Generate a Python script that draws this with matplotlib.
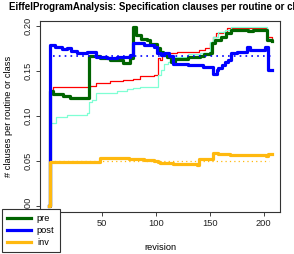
import numpy as np
import matplotlib.pyplot as plt
from matplotlib.lines import Line2D

plt.rcParams['font.family'] = ['Liberation Sans', 'DejaVu Sans']

# step breakpoints (revision, value)
pre_rev = [1, 2, 5, 14, 21, 37, 38, 48, 58, 70, 76, 79, 82, 86, 92, 95, 101, 104, 107, 110, 114, 118, 130, 141, 145, 150, 152, 155, 160, 165, 170, 185, 190, 195, 203, 208]
pre_val = [0.0, 0.128, 0.124, 0.122, 0.120, 0.120, 0.167, 0.164, 0.162, 0.159, 0.164, 0.199, 0.190, 0.186, 0.184, 0.180, 0.175, 0.171, 0.168, 0.166, 0.160, 0.163, 0.165, 0.167, 0.169, 0.170, 0.181, 0.184, 0.188, 0.192, 0.1955, 0.194, 0.1955, 0.1955, 0.184, 0.183]

post_rev = [1, 2, 7, 13, 18, 22, 27, 36, 42, 45, 55, 64, 76, 79, 89, 98, 101, 105, 108, 112, 116, 130, 141, 144, 150, 153, 157, 158, 161, 164, 167, 170, 175, 184, 187, 201, 204, 208]
post_val = [0.0, 0.179, 0.177, 0.1745, 0.175, 0.1726, 0.170, 0.171, 0.171, 0.166, 0.164, 0.166, 0.1677, 0.181, 0.1788, 0.177, 0.170, 0.168, 0.170, 0.167, 0.158, 0.1566, 0.1566, 0.1547, 0.1547, 0.147, 0.151, 0.153, 0.157, 0.160, 0.162, 0.170, 0.171, 0.177, 0.173, 0.177, 0.151, 0.151]

inv_rev = [1, 2, 5, 11, 36, 38, 44, 48, 58, 70, 75, 79, 89, 98, 102, 104, 110, 116, 126, 138, 140, 150, 153, 158, 169, 172, 196, 202, 204, 208]
inv_val = [0.0, 0.049, 0.0486, 0.0482, 0.0482, 0.0486, 0.0482, 0.0527, 0.0531, 0.0531, 0.052, 0.0516, 0.0505, 0.0497, 0.049, 0.0475, 0.047, 0.0467, 0.046, 0.0457, 0.052, 0.052, 0.0583, 0.0576, 0.0568, 0.056, 0.056, 0.0557, 0.0572, 0.0572]

red_rev = [1, 2, 5, 39, 45, 58, 70, 79, 85, 98, 102, 104, 106, 110, 120, 140, 146, 150, 153, 156, 162, 166, 170, 203, 208]
red_val = [0.0, 0.129, 0.1325, 0.133, 0.136, 0.1388, 0.1397, 0.1415, 0.144, 0.145, 0.164, 0.162, 0.168, 0.170, 0.171, 0.173, 0.175, 0.181, 0.188, 0.192, 0.193, 0.1975, 0.198, 0.188, 0.1865]

aqua_rev = [1, 2, 8, 18, 36, 38, 41, 45, 55, 64, 73, 79, 85, 98, 102, 105, 108, 111, 114, 130, 141, 150, 153, 158, 164, 170, 203, 208]
aqua_val = [0.0, 0.0917, 0.0991, 0.1009, 0.1028, 0.1157, 0.1176, 0.125, 0.1258, 0.128, 0.1295, 0.1306, 0.1317, 0.1325, 0.145, 0.151, 0.158, 0.160, 0.165, 0.169, 0.170, 0.182, 0.188, 0.1935, 0.1955, 0.199, 0.186, 0.186]

post_mean = 0.1667
inv_mean = 0.050
mean_start = [5, 2]
mean_end = [208, 205]

fig = plt.figure(figsize=(2.94, 2.54), dpi=100)
ax = fig.add_axes([40 / 294, (254 - 211.7) / 254, 240 / 294, 191 / 254])

ax.plot(red_rev, red_val, color='red', lw=0.9, drawstyle='steps-post')
ax.plot(aqua_rev, aqua_val, color='aquamarine', lw=0.9, drawstyle='steps-post')
ax.plot(pre_rev, pre_val, color='darkgreen', lw=2.3, drawstyle='steps-post')
ax.plot(post_rev, post_val, color='blue', lw=2.3, drawstyle='steps-post')
ax.plot(inv_rev, inv_val, color='#FFB90F', lw=2.3, drawstyle='steps-post')
ax.hlines(post_mean, mean_start[0], mean_end[0], color='blue', lw=1.2, linestyles=(0, (1, 2.5)))
ax.hlines(inv_mean, mean_start[1], mean_end[1], color='#FFB90F', lw=0.9, linestyles=(0, (1, 2.5)))

ax.set_xlim(-7.1, 215)
ax.set_ylim(-0.0067, 0.2059)
ax.set_xticks([0, 50, 100, 150, 200])
ax.set_yticks([0.0, 0.05, 0.10, 0.15, 0.20])
ax.set_yticklabels(['0.00', '0.05', '0.10', '0.15', '0.20'])
ax.tick_params(labelsize=6.7, length=3, width=0.6, colors='#222222', pad=2)
for lab in ax.get_yticklabels():
    lab.set_rotation(90)
    lab.set_va('center')
for s in ax.spines.values():
    s.set_color('#333333')
    s.set_linewidth(0.8)

ax.set_xlabel('revision', fontsize=6.7, labelpad=11)
ax.set_ylabel('# clauses per routine or class', fontsize=6.7, labelpad=8)
fig.text(0.546, 0.972, 'EiffelProgramAnalysis: Specification clauses per routine or class',
         ha='center', va='center', fontsize=7.0, fontweight='bold')

handles = [Line2D([], [], color='darkgreen', lw=2.3),
           Line2D([], [], color='blue', lw=2.3),
           Line2D([], [], color='#FFB90F', lw=2.3)]
leg = fig.legend(handles, ['pre', 'post', 'inv'], loc='lower left',
                 bbox_to_anchor=(2 / 294, 2 / 254), fontsize=6.7, frameon=True,
                 fancybox=False, borderaxespad=0, handlelength=2.6, handletextpad=0.6,
                 labelspacing=0.3, borderpad=0.55)
leg.get_frame().set_edgecolor('#333333')
leg.get_frame().set_linewidth(0.8)
leg.get_frame().set_alpha(1)
leg.set_zorder(10)

plt.savefig('out.png', dpi=100)
